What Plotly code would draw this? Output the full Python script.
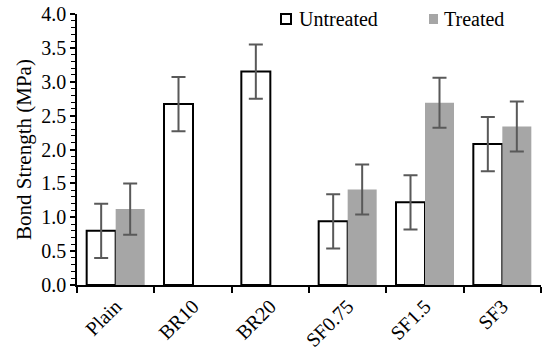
import plotly.graph_objects as go

categories = ["Plain", "BR10", "BR20", "SF0.75", "SF1.5", "SF3"]
untreated = [0.80, 2.67, 3.15, 0.94, 1.22, 2.08]
untreated_err = [0.40, 0.40, 0.40, 0.40, 0.40, 0.40]
treated = [1.12, None, None, 1.41, 2.69, 2.34]
treated_err = [0.38, None, None, 0.37, 0.37, 0.37]

FONT = "Liberation Serif, Times New Roman, serif"
W, H = 550, 360
ML, MR, MT, MB = 77, 9, 14, 75
PW, PH = W - ML - MR, H - MT - MB


def px(x):
    return (x - ML) / PW


def py(y):
    return (H - MB - y) / PH


fig = go.Figure()
fig.add_trace(go.Bar(
    name="Untreated", x=categories, y=untreated,
    marker=dict(color="white", line=dict(color="black", width=2)),
    error_y=dict(type="data", array=untreated_err, color="#595959", thickness=2, width=7),
))
fig.add_trace(go.Bar(
    name="Treated", x=categories, y=treated,
    marker=dict(color="#a6a6a6", line=dict(color="#a6a6a6", width=0)),
    error_y=dict(type="data", array=treated_err, color="#595959", thickness=2, width=7),
))

# legend drawn as shapes + text
legend_items = [
    dict(name="Untreated", box=(281, 291), fill="white", line="black", lw=2, tx=297),
    dict(name="Treated", box=(429, 438), fill="#a6a6a6", line="#a6a6a6", lw=0, tx=442),
]
for it in legend_items:
    fig.add_shape(type="rect", xref="paper", yref="paper",
                  x0=px(it["box"][0]), x1=px(it["box"][1]), y0=py(24), y1=py(14),
                  fillcolor=it["fill"], line=dict(color=it["line"], width=it["lw"]))
    fig.add_annotation(text=it["name"], xref="paper", yref="paper",
                       x=px(it["tx"]), y=py(19), xanchor="left", yanchor="middle",
                       showarrow=False, font=dict(size=20, color="black"))

fig.update_layout(
    width=W, height=H,
    margin=dict(l=ML, r=MR, t=MT, b=MB),
    paper_bgcolor="white", plot_bgcolor="white",
    font=dict(family=FONT, size=20, color="black"),
    barmode="group", bargap=0.25, bargroupgap=0,
    showlegend=False,
)
fig.update_xaxes(
    showline=True, linecolor="black", linewidth=1.5,
    ticks="outside", tickson="boundaries", ticklen=6, tickcolor="black", tickwidth=1.5,
    tickangle=-45, showgrid=False, automargin=False,
)
fig.update_yaxes(
    title=dict(text="Bond Strength (MPa)", font=dict(size=21), standoff=4),
    range=[0, 4], dtick=0.5, tickformat=".1f", ticklabeloverflow="allow",
    showline=True, linecolor="black", linewidth=1.5,
    ticks="outside", ticklen=5, tickcolor="black", tickwidth=1.5,
    minor=dict(dtick=0.1, ticks="outside", ticklen=4, tickcolor="black", tickwidth=1),
    showgrid=False, zeroline=False, automargin=False,
)

fig.write_html("out.html", config={"displayModeBar": False},
               post_script="document.body.style.margin='0';")
